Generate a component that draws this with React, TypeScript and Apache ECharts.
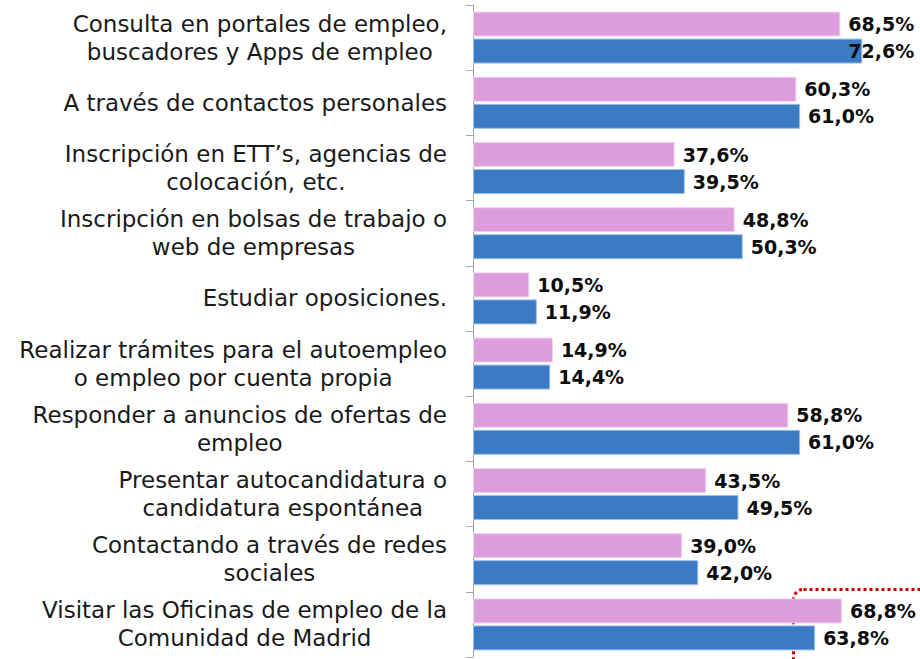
import React, { useEffect, useRef } from "react";
import * as echarts from "echarts";

const categories: string[] = [
  "Consulta en portales de empleo,\nbuscadores y Apps de empleo",
  "A través de contactos personales",
  "Inscripción en ETT’s, agencias de\ncolocación, etc.",
  "Inscripción en bolsas de trabajo o\nweb de empresas",
  "Estudiar oposiciones.",
  "Realizar trámites para el autoempleo\no empleo por cuenta propia",
  "Responder a anuncios de ofertas de\nempleo",
  "Presentar autocandidatura o\ncandidatura espontánea",
  "Contactando a través de redes\nsociales",
  "Visitar las Oficinas de empleo de la\nComunidad de Madrid",
];

const pinkValues: number[] = [68.5, 60.3, 37.6, 48.8, 10.5, 14.9, 58.8, 43.5, 39.0, 68.8];
const blueValues: number[] = [72.6, 61.0, 39.5, 50.3, 11.9, 14.4, 61.0, 49.5, 42.0, 63.8];

const PINK = "#DD9CDB";
const BLUE = "#3B7BC5";

const fmt = (v: number) => v.toFixed(1).replace(".", ",") + "%";

export default function App() {
  const ref = useRef<HTMLDivElement>(null);

  useEffect(() => {
    if (!ref.current) return;
    const chart = echarts.init(ref.current, undefined, { renderer: "svg" });

    const valueLabel = {
      show: true,
      position: "right" as const,
      distance: 8,
      fontFamily: "DejaVu Sans",
      fontWeight: "bold" as const,
      fontSize: 19,
      color: "#0D0D0D",
      formatter: (p: any) => fmt(p.value),
    };

    chart.setOption({
      animation: false,
      backgroundColor: "#FFFFFF",
      grid: { left: 473, right: 18, top: 5, bottom: 2, containLabel: false },
      xAxis: {
        type: "value",
        min: 0,
        max: 80,
        show: false,
      },
      yAxis: {
        type: "category",
        inverse: true,
        data: categories,
        axisLine: { show: true, lineStyle: { color: "#A6A6A6", width: 1 } },
        axisTick: { show: true, length: 7, lineStyle: { color: "#A6A6A6" } },
        axisLabel: {
          margin: 26,
          align: "right",
          fontFamily: "DejaVu Sans",
          fontSize: 23,
          color: "#1A1A1A",
          formatter: (v: string) =>
            v
              .split("\n")
              .map((l) => `{c|${l}}`)
              .join("\n"),
          rich: {
            c: {
              align: "center",
              fontFamily: "DejaVu Sans",
              fontSize: 23,
              lineHeight: 28,
              color: "#1A1A1A",
            },
          },
        },
        splitLine: { show: false },
      },
      series: [
        {
          type: "bar",
          name: "A",
          data: pinkValues,
          barWidth: 25,
          barGap: "8%",
          itemStyle: { color: PINK, borderColor: "#F2D2F1", borderWidth: 1 },
          label: valueLabel,
        },
        {
          type: "bar",
          name: "B",
          data: blueValues.map((v, i) =>
            i === 0 ? { value: v, label: { offset: [-22, 0] } } : v
          ),
          barWidth: 25,
          barGap: "8%",
          itemStyle: { color: BLUE, borderColor: "#9CC0E8", borderWidth: 1 },
          label: valueLabel,
        },
      ],
      graphic: [
        {
          type: "rect",
          left: 791,
          top: 587,
          shape: { width: 200, height: 120, r: 10 },
          style: {
            fill: "none",
            stroke: "#C00000",
            lineWidth: 3,
            lineDash: [3, 3],
          },
          silent: true,
        },
      ],
    });

    return () => chart.dispose();
  }, []);

  return (
    <div
      ref={ref}
      style={{ position: "fixed", left: 0, top: 0, width: 920, height: 659 }}
    />
  );
}
